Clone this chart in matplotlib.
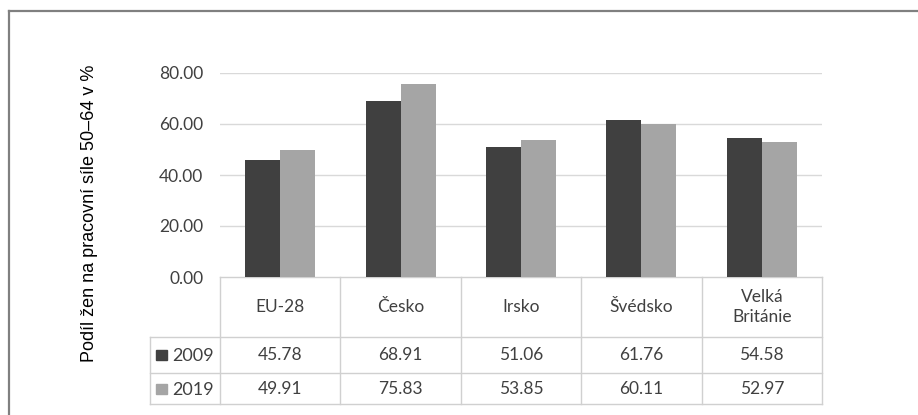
import matplotlib
matplotlib.use("Agg")
import matplotlib.pyplot as plt
from matplotlib.patches import Rectangle
from matplotlib.lines import Line2D
import numpy as np

categories = ["EU-28", "Česko", "Irsko", "Švédsko", "Velká\nBritánie"]
years = ["2009", "2019"]
values_2009 = [45.78, 68.91, 51.06, 61.76, 54.58]
values_2019 = [49.91, 75.83, 53.85, 60.11, 52.97]
yticks = [0, 20, 40, 60, 80]
ylabel = "Podíl žen na pracovní síle 50–64 v %"

colors = ["#404040", "#A5A5A5"]
grid_c = "#D9D9D9"
text_c = "#404040"
tick_font = ["Lato", "DejaVu Sans"]
fs = 12.5

W, H = 918, 415
fig = plt.figure(figsize=(W / 100, H / 100), dpi=100)

def fx(px):
    return px / W

def fy(py):
    return 1 - py / H

# plot area
left, right, top, bottom = 220, 822, 73, 277
ax = fig.add_axes([fx(left), fy(bottom), fx(right - left), (bottom - top) / H])
x = np.arange(len(categories))
bw = 0.29
ax.bar(x - bw / 2, values_2009, bw, color=colors[0], zorder=3)
ax.bar(x + bw / 2, values_2019, bw, color=colors[1], zorder=3)
ax.set_xlim(-0.5, len(categories) - 0.5)
ax.set_ylim(0, 80)
ax.set_yticks(yticks)
ax.set_yticklabels([f"{v:.2f}" for v in yticks], fontsize=fs, color=text_c,
                   family=tick_font)
ax.tick_params(axis="y", length=0, pad=12)
ax.set_xticks([])
for s in ax.spines.values():
    s.set_visible(False)
for v in yticks[1:]:
    ax.axhline(v, color=grid_c, lw=1.0, zorder=1)

# y label
fig.text(fx(90), fy(213), ylabel, rotation=90, ha="center", va="center",
         fontsize=13, color="#000000", family=["Liberation Sans", "DejaVu Sans"])

# table in axes-fraction y, data x
tr = ax.get_xaxis_transform()
row_px = [277, 337, 373, 404]
row_y = [(bottom - py) / (bottom - top) for py in row_px]
label_left = -0.5 - (220 - 150) / ((right - left) / len(categories))
tcol = "#D0D0D0"

def hline(x0, x1, y):
    ax.add_line(Line2D([x0, x1], [y, y], transform=tr, color=tcol, lw=1.0, clip_on=False))

def vline(xv, y0, y1):
    ax.add_line(Line2D([xv, xv], [y0, y1], transform=tr, color=tcol, lw=1.0, clip_on=False))

xr = len(categories) - 0.5
hline(-0.5, xr, row_y[0])
hline(label_left, xr, row_y[1])
hline(label_left, xr, row_y[2])
hline(label_left, xr, row_y[3])
for i in range(len(categories) + 1):
    vline(-0.5 + i, row_y[0], row_y[3])
vline(label_left, row_y[1], row_y[3])

# header labels
for i, c in enumerate(categories):
    ax.text(i, (row_y[0] + row_y[1]) / 2, c, transform=tr, ha="center", va="center",
            fontsize=fs, color=text_c, family=tick_font, linespacing=1.3,
            clip_on=False)

# value rows
for r, (yr, vals) in enumerate(zip(years, [values_2009, values_2019])):
    yc = (row_y[r + 1] + row_y[r + 2]) / 2
    for i, v in enumerate(vals):
        ax.text(i, yc, f"{v:.2f}", transform=tr, ha="center", va="center",
                fontsize=fs, color=text_c, family=tick_font, clip_on=False)
    # legend key
    ypx_c = (row_px[r + 1] + row_px[r + 2]) / 2
    fig.patches.append(Rectangle((fx(156), fy(ypx_c + 5)), fx(11), 10 / H,
                                 transform=fig.transFigure, color=colors[r]))
    fig.text(fx(172), fy(ypx_c + 1), yr, ha="left", va="center", fontsize=13,
             color=text_c, family=tick_font)

# outer border
fig.add_artist(Line2D([fx(9), fx(9)], [fy(11), 0], color="#808080", lw=1.6))
fig.add_artist(Line2D([fx(9), 1], [fy(11), fy(11)], color="#808080", lw=1.6))

fig.savefig("out.png", dpi=100)
